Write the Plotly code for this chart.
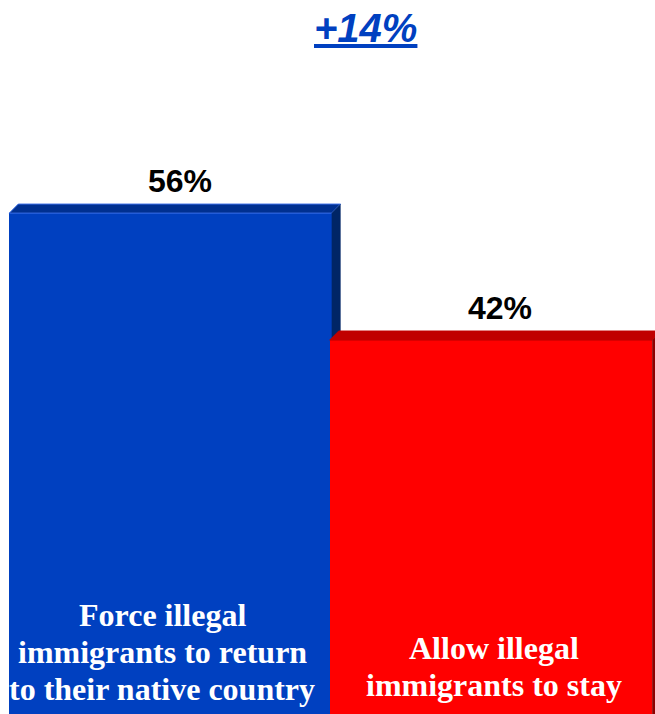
import plotly.graph_objects as go

# ---- data ----
categories = ["Force illegal immigrants to return to their native country",
              "Allow illegal immigrants to stay"]
label_lines = [["Force illegal", "immigrants to return", "to their native country"],
               ["Allow illegal", "immigrants to stay"]]
values = [56, 42]
value_labels = ["56%", "42%"]
headline = "+14%"

# ---- styles ----
front_colors = ["#0040C0", "#FF0000"]
top_colors = ["#003090", "#C00000"]
side_colors = ["#002566", "#8C0000"]
edge_colors = ["#3A6EE6", "#C00000"]
label_xshift = [-8, 3]
label_last_baseline = [700, 696]

W, H = 655, 714
x_pos = [0, 1]
bar_w = 1.006
depth_x = 0.028
depth_y = 1.0
x_range = [-0.532, 1.512]
y_range = [0.77, 79.5]

fig = go.Figure()

fig.add_trace(go.Bar(
    x=x_pos, y=values, width=bar_w,
    marker=dict(color=front_colors, line=dict(width=0)),
    hoverinfo="skip", showlegend=False,
))

for i, (xc, v) in enumerate(zip(x_pos, values)):
    xl, xr = xc - bar_w / 2, xc + bar_w / 2
    # top bevel
    fig.add_trace(go.Scatter(
        x=[xl, xl + depth_x, xr + depth_x, xr, xl],
        y=[v, v + depth_y, v + depth_y, v, v],
        mode="lines", fill="toself", fillcolor=top_colors[i],
        line=dict(color=edge_colors[i], width=1),
        hoverinfo="skip", showlegend=False,
    ))
    # right side
    bottom = values[i + 1] if i + 1 < len(values) else 0
    fig.add_trace(go.Scatter(
        x=[xr, xr + depth_x, xr + depth_x, xr, xr],
        y=[v, v + depth_y, bottom, bottom, v],
        mode="lines", fill="toself", fillcolor=side_colors[i],
        line=dict(color=side_colors[i], width=0),
        hoverinfo="skip", showlegend=False,
    ))

annotations = []
# value labels
for i, (xc, v) in enumerate(zip(x_pos, values)):
    annotations.append(dict(
        x=xc + depth_x / 2, y=v + depth_y, xref="x", yref="y",
        text="<b>%s</b>" % value_labels[i], showarrow=False,
        xanchor="center", yanchor="bottom", xshift=5, yshift=3,
        font=dict(family="Liberation Sans, Arial", size=32, color="#000000"),
    ))
# category labels inside bars (one annotation per line)
line_gap = 37
fs = 32
for i, lines in enumerate(label_lines):
    n = len(lines)
    for k, ln in enumerate(lines):
        baseline = label_last_baseline[i] - (n - 1 - k) * line_gap
        center = baseline - 0.3375 * fs
        annotations.append(dict(
            x=x_pos[i], y=1 - center / H, xref="x", yref="paper",
            text="<b>%s</b>" % ln, showarrow=False,
            xanchor="center", yanchor="middle", xshift=label_xshift[i],
            font=dict(family="Liberation Serif, Times New Roman", size=fs, color="#FFFFFF"),
        ))
# headline
annotations.append(dict(
    x=365 / W, y=1 - 28 / H, xref="paper", yref="paper",
    text="<i><b><u>%s</u></b></i>" % headline, showarrow=False,
    xanchor="center", yanchor="middle",
    font=dict(family="Liberation Sans, Arial", size=40, color="#0040C0"),
))

fig.update_layout(
    width=W, height=H,
    margin=dict(l=0, r=0, t=0, b=0),
    paper_bgcolor="#FFFFFF", plot_bgcolor="#FFFFFF",
    xaxis=dict(range=x_range, visible=False, fixedrange=True),
    yaxis=dict(range=y_range, visible=False, fixedrange=True),
    annotations=annotations,
    bargap=0,
)

fig.write_html("out.html", config={"displayModeBar": False},
               post_script="document.body.style.margin='0px';")
